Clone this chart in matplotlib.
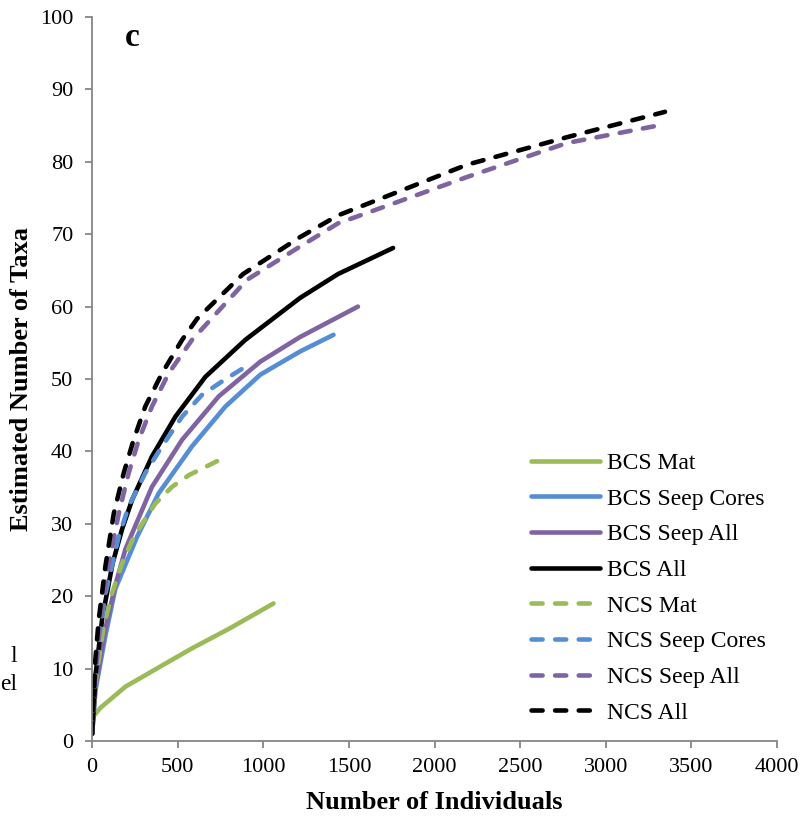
import matplotlib
matplotlib.use("Agg")
import matplotlib.pyplot as plt

plt.rcParams["font.family"] = ["Liberation Serif", "DejaVu Serif"]
plt.rcParams["lines.scale_dashes"] = False

# rarefaction curves
bcs_mat_x = [0, 50, 195, 400, 584, 800, 1060]
bcs_mat_y = [3.2, 4.6, 7.5, 10.3, 12.8, 15.5, 19.0]

bcs_cores_x = [1, 20, 78, 136, 263, 389, 584, 779, 983, 1215, 1410]
bcs_cores_y = [1, 7, 14.5, 21, 28.2, 34.2, 40.7, 46.2, 50.6, 53.8, 56.1]

bcs_seep_x = [1, 20, 78, 136, 195, 350, 526, 740, 983, 1215, 1553]
bcs_seep_y = [1, 7.5, 15.5, 21.5, 26.5, 35.1, 41.6, 47.6, 52.4, 55.8, 60.0]

bcs_all_x = [1, 20, 60, 120, 175, 234, 350, 487, 662, 895, 1215, 1437, 1758]
bcs_all_y = [1, 9, 17, 24.5, 29.2, 33.3, 39.3, 44.8, 50.3, 55.4, 61.2, 64.5, 68.1]

ncs_mat_x = [1, 15, 39, 68, 117, 175, 234, 292, 370, 467, 564, 760]
ncs_mat_y = [1, 7, 11.2, 15.8, 20.4, 24.5, 27.7, 30.0, 32.8, 35.1, 36.7, 39.0]

ncs_cores_x = [1, 15, 40, 80, 156, 214, 311, 409, 526, 642, 780, 911]
ncs_cores_y = [1, 8, 14, 20.5, 28.2, 32.4, 37, 40.7, 44.8, 47.8, 50, 51.9]

ncs_seep_x = [1, 10, 40, 90, 156, 214, 273, 350, 448, 584, 905, 1215, 1437, 2190, 2774, 3282]
ncs_seep_y = [1, 6, 15, 23.5, 31.4, 37, 41.6, 46.2, 50.8, 55.4, 63.7, 68.3, 71.5, 77.9, 82.6, 84.9]

ncs_all_x = [1, 10, 19.5, 39, 78, 127, 185, 243, 311, 409, 526, 613, 882, 1215, 1437, 2190, 2774, 3346]
ncs_all_y = [1, 5.7, 11.2, 16.7, 24.1, 31.4, 37, 41.6, 46.2, 50.8, 55.4, 58.3, 64.5, 69.6, 72.6, 79.6, 83.4, 86.9]

GREEN = "#9BBB59"
BLUE = "#558ED5"
PURPLE = "#8064A2"
BLACK = "#000000"
GREY = "#868686"

series = [
    ("BCS Mat", bcs_mat_x, bcs_mat_y, GREEN, "-"),
    ("BCS Seep Cores", bcs_cores_x, bcs_cores_y, BLUE, "-"),
    ("BCS Seep All", bcs_seep_x, bcs_seep_y, PURPLE, "-"),
    ("BCS All", bcs_all_x, bcs_all_y, BLACK, "-"),
    ("NCS Mat", ncs_mat_x, ncs_mat_y, GREEN, "--"),
    ("NCS Seep Cores", ncs_cores_x, ncs_cores_y, BLUE, "--"),
    ("NCS Seep All", ncs_seep_x, ncs_seep_y, PURPLE, "--"),
    ("NCS All", ncs_all_x, ncs_all_y, BLACK, "--"),
]

fig = plt.figure(figsize=(8.05, 8.16), dpi=100)
ax = fig.add_axes([92 / 805, 1 - 741 / 816, 685 / 805, 724 / 816])

for label, xs, ys, color, style in series:
    kw = dict(color=color, lw=3.3, label=label, solid_capstyle="round", dash_capstyle="round")
    if style == "--":
        kw["dashes"] = (8, 9)
    ax.plot(xs, ys, **kw)

ax.set_xlim(0, 4000)
ax.set_ylim(0, 100)
ax.set_xticks(range(0, 4001, 500))
ax.set_yticks(range(0, 101, 10))
for side in ["top", "right"]:
    ax.spines[side].set_visible(False)
for side in ["left", "bottom"]:
    ax.spines[side].set_color(GREY)
    ax.spines[side].set_linewidth(1.3)
ax.tick_params(direction="out", length=5, width=1.3, color=GREY, labelsize=16)
ax.tick_params(axis="x", pad=7)
ax.tick_params(axis="y", pad=8.5)

ax.set_xlabel("Number of Individuals", fontsize=19, fontweight="bold", labelpad=10)
ax.set_ylabel("Estimated Number of Taxa", fontsize=19, fontweight="bold", labelpad=5)
ax.text(0.048, 0.972, "c", transform=ax.transAxes, fontsize=24, fontweight="bold", va="center")

ax.legend(loc="upper left", bbox_to_anchor=(0.623, 0.415), frameon=False, fontsize=17,
          handlelength=2.95, handletextpad=0.3, labelspacing=0.6, borderpad=0)

# text cut off from the neighbouring panel
fig.text(17 / 805, 1 - 657 / 816, "l", fontsize=17, ha="right", va="center")
fig.text(17 / 805, 1 - 685 / 816, "el", fontsize=17, ha="right", va="center")

fig.savefig("out.png", dpi=100)
